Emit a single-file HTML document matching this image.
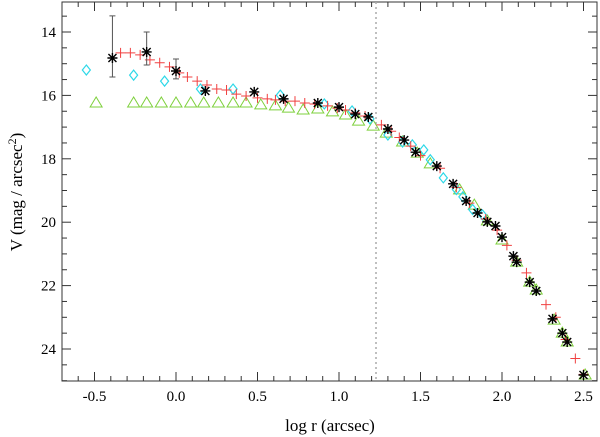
<!DOCTYPE html>
<html><head><meta charset="utf-8"><style>
body{margin:0;background:#fff}
svg{display:block;font-family:"Liberation Serif",serif}
</style></head><body>
<svg id="chart" width="600" height="437" xmlns="http://www.w3.org/2000/svg">
<g id="axes"></g>
<g id="marks"></g>
<text x="330" y="431" font-size="17" text-anchor="middle">log r (arcsec)</text>
<text transform="translate(22,192) rotate(-90)" font-size="17" text-anchor="middle">V (mag / arcsec<tspan dy="-6" font-size="12">2</tspan><tspan dy="6">)</tspan></text>
</svg>
<script>
const xTicks=[-0.5,0.0,0.5,1.0,1.5,2.0,2.5];
const xTickLabels=["-0.5","0.0","0.5","1.0","1.5","2.0","2.5"];
const yTicks=[14,16,18,20,22,24];
const yTickLabels=["14","16","18","20","22","24"];
const cutoffX=1.227;
const starX=[-0.39,-0.18,0.0,0.18,0.48,0.66,0.87,1.0,1.10,1.18,1.30,1.40,1.47,1.60,1.70,1.78,1.85,1.91,1.96,2.0,2.07,2.09,2.17,2.21,2.31,2.37,2.40,2.50];
const starY=[14.82,14.63,15.23,15.86,15.89,16.11,16.24,16.37,16.59,16.68,17.06,17.41,17.79,18.23,18.79,19.33,19.71,19.99,20.12,20.47,21.07,21.26,21.89,22.17,23.05,23.50,23.78,24.82];
const errX=[-0.39,-0.18,0.0];
const errLo=[13.49,14.0,14.85];
const errHi=[15.42,15.04,15.48];
const crossX=[-0.34,-0.28,-0.22,-0.16,-0.10,-0.04,0.02,0.07,0.13,0.19,0.25,0.31,0.37,0.43,0.50,0.56,0.61,0.67,0.73,0.79,0.85,0.93,0.99,1.04,1.10,1.16,1.26,1.32,1.37,1.44,1.50,1.62,1.72,1.80,1.90,1.97,2.03,2.09,2.15,2.27,2.33,2.39,2.45,2.50];
const crossY=[14.66,14.66,14.72,14.88,14.97,15.10,15.29,15.42,15.55,15.67,15.80,15.83,15.96,16.02,16.08,16.11,16.14,16.18,16.18,16.24,16.27,16.33,16.40,16.46,16.55,16.65,16.93,17.13,17.33,17.6,17.9,18.3,18.9,19.4,19.9,20.25,20.73,21.2,21.6,22.6,23.0,23.7,24.3,24.8];
const diaX=[-0.55,-0.26,-0.07,0.15,0.35,0.64,0.91,1.08,1.19,1.30,1.39,1.45,1.52,1.56,1.64,1.72,1.76,1.82,1.88];
const diaY=[15.20,15.36,15.55,15.80,15.80,15.99,16.27,16.49,16.74,17.25,17.47,17.56,17.72,18.03,18.6,18.97,19.2,19.6,19.77];
const triX=[-0.49,-0.26,-0.18,-0.09,0.0,0.09,0.17,0.26,0.35,0.43,0.52,0.61,0.69,0.78,0.87,0.96,1.04,1.12,1.21,1.29,1.39,1.48,1.56,1.74,1.83,1.91,2.0,2.09,2.17,2.21,2.32,2.37,2.40,2.51];
const triY=[16.24,16.24,16.24,16.24,16.24,16.24,16.24,16.24,16.24,16.24,16.30,16.33,16.40,16.46,16.43,16.52,16.62,16.81,16.97,17.19,17.47,17.82,18.16,18.98,19.46,19.96,20.56,21.26,21.89,22.14,23.09,23.5,23.78,24.82];

const L=62,R=597,T=2,B=381;
const X=v=>176+163*v;
const Y=v=>32+31.7*(v-14);
const NS="http://www.w3.org/2000/svg";
function mk(tag,attrs,parent){const e=document.createElementNS(NS,tag);for(const k in attrs)e.setAttribute(k,attrs[k]);parent.appendChild(e);return e;}
const axes=document.getElementById('axes'),marks=document.getElementById('marks');

let frame=mk('rect',{x:L,y:T,width:R-L,height:B-T,fill:'none',stroke:'#333','stroke-width':1},axes);


// minor/major ticks
for(let v=-0.7;v<=2.58;v+=0.1){const r=Math.round(v*10)/10;const px=X(r);if(px<L||px>R)continue;const maj=Math.abs(r*2-Math.round(r*2))<1e-6;const len=maj?9:5;
 mk('line',{x1:px,y1:B,x2:px,y2:B-len,stroke:'#333'},axes);mk('line',{x1:px,y1:T,x2:px,y2:T+len,stroke:'#333'},axes);}
for(let v=13;v<=25;v+=0.5){const py=Y(v);if(py<T||py>B)continue;const maj=v%2===0;const len=maj?9:5;
 mk('line',{x1:L,y1:py,x2:L+len,y2:py,stroke:'#333'},axes);mk('line',{x1:R,y1:py,x2:R-len,y2:py,stroke:'#333'},axes);}
xTicks.forEach((v,i)=>{const t=mk('text',{x:X(v),y:B+20,'font-size':15,'text-anchor':'middle'},axes);t.textContent=xTickLabels[i];
 
 });
yTicks.forEach((v,i)=>{const t=mk('text',{x:L-6,y:Y(v)+5,'font-size':15,'text-anchor':'end'},axes);t.textContent=yTickLabels[i];
 
 });
const cl=mk('line',{x1:X(cutoffX),y1:T,x2:X(cutoffX),y2:B,stroke:'#aaa','stroke-width':1.5,'stroke-dasharray':'2,3'},axes);



triX.forEach((v,i)=>{const x=X(v),y=Y(triY[i]);const p=mk('polygon',{points:`${x},${y-6} ${x-6},${y+4} ${x+6},${y+4}`,fill:'none',stroke:'#7ed03c','stroke-width':1},marks);
 
 });
diaX.forEach((v,i)=>{const x=X(v),y=Y(diaY[i]);const p=mk('polygon',{points:`${x},${y-5} ${x+4},${y} ${x},${y+5} ${x-4},${y}`,fill:'none',stroke:'#2ed8e8','stroke-width':1.2},marks);
 
 });
crossX.forEach((v,i)=>{const x=X(v),y=Y(crossY[i]);const g=mk('path',{d:`M${x-5},${y}H${x+5}M${x},${y-5}V${y+5}`,stroke:'#f04040','stroke-width':1},marks);
 
 });
errX.forEach((v,i)=>{const x=X(v),a=Y(errLo[i]),b=Y(errHi[i]);const g=mk('path',{d:`M${x},${a}V${b}M${x-3},${a}H${x+3}M${x-3},${b}H${x+3}`,stroke:'#555','stroke-width':1,fill:'none'},marks);
 
 });
starX.forEach((v,i)=>{const x=X(v),y=Y(starY[i]),s=5;const g=mk('path',{d:`M${x-s},${y}H${x+s}M${x},${y-s}V${y+s}M${x-4},${y-4}L${x+4},${y+4}M${x-4},${y+4}L${x+4},${y-4}`,stroke:'#000','stroke-width':1.4},marks);
 
 });
</script>
</body></html>
